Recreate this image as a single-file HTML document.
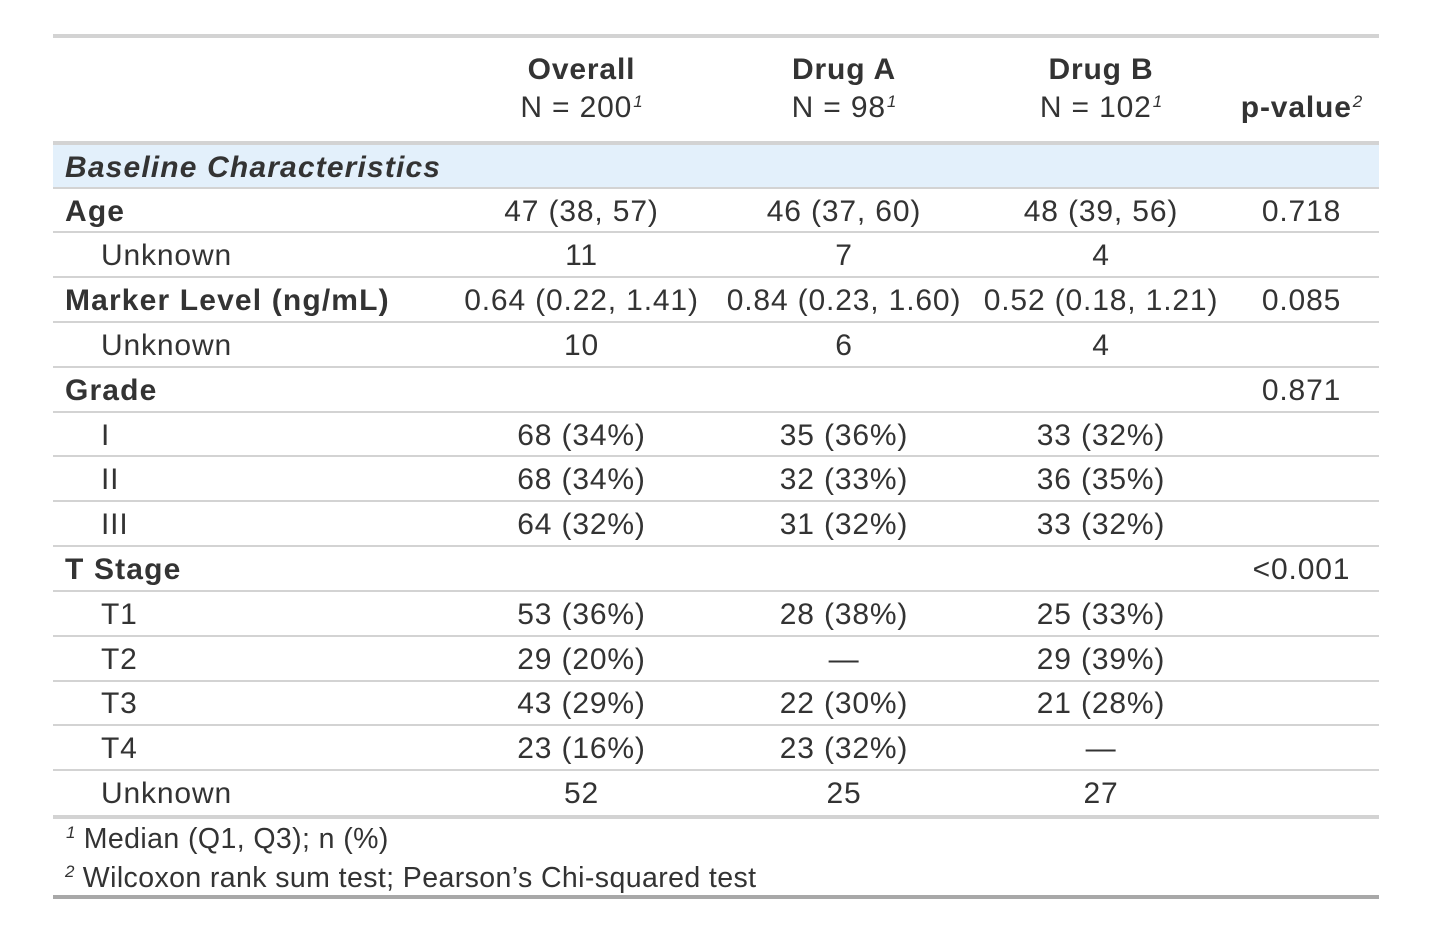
<!DOCTYPE html>
<html>
<head>
<meta charset="utf-8">
<style>
  html, body { margin:0; padding:0; background:#ffffff; }
  body { width:1454px; height:936px; position:relative; overflow:hidden;
         font-family:"Liberation Sans", Arial, sans-serif; color:#333333; }
  .hl { position:absolute; left:53px; width:1326px; background:#d3d3d3; }
  .row { position:absolute; left:0; width:1454px; height:44.8px; }
  .c { position:absolute; top:1.5px; height:44.8px; line-height:44.8px; font-size:30px;
       letter-spacing:0.85px; white-space:nowrap; }
  .lab { left:65px; }
  .ind { left:101px; }
  .b { font-weight:bold; letter-spacing:1.15px; }
  .c1 { left:453px; width:257px; text-align:center; }
  .c2 { left:710px; width:268px; text-align:center; }
  .c3 { left:978px; width:246px; text-align:center; }
  .c4 { left:1224px; width:155px; text-align:center; }
  .h { position:absolute; height:38px; line-height:38px; font-size:30px; white-space:nowrap;
       text-align:center; letter-spacing:0.85px; }
  .sup { font-size:17px; font-style:italic; position:relative; top:-10px; letter-spacing:0; margin-left:1px; }
  .fn { position:absolute; font-size:28.5px; letter-spacing:0.4px; white-space:nowrap; height:40px; line-height:40px; }
</style>
</head>
<body>

<!-- top border -->
<div class="hl" style="top:34px;height:4px;"></div>

<!-- header -->
<div class="h b" style="left:453px;width:257px;top:51.2px;">Overall</div>
<div class="h" style="left:453px;width:257px;top:89px;">N = 200<span class="sup">1</span></div>
<div class="h b" style="left:710px;width:268px;top:51.2px;">Drug A</div>
<div class="h" style="left:710px;width:268px;top:89px;">N = 98<span class="sup">1</span></div>
<div class="h b" style="left:978px;width:246px;top:51.2px;">Drug B</div>
<div class="h" style="left:978px;width:246px;top:89px;">N = 102<span class="sup">1</span></div>
<div class="h b" style="left:1224px;width:155px;top:89px;">p-value<span class="sup" style="font-weight:normal;">2</span></div>

<!-- header bottom border -->
<div class="hl" style="top:141px;height:4px;"></div>

<!-- group row -->
<div style="position:absolute;left:53px;top:145px;width:1326px;height:42px;background:#e3f0fb;"></div>
<div class="c b lab" style="top:146.5px;height:42px;line-height:42px;font-style:italic;">Baseline Characteristics</div>

<!-- row separators -->
<div class="hl" style="top:187px;height:2px;"></div>
<div class="hl" style="top:231px;height:2px;"></div>
<div class="hl" style="top:276px;height:2px;"></div>
<div class="hl" style="top:321px;height:2px;"></div>
<div class="hl" style="top:366px;height:2px;"></div>
<div class="hl" style="top:411px;height:2px;"></div>
<div class="hl" style="top:455px;height:2px;"></div>
<div class="hl" style="top:500px;height:2px;"></div>
<div class="hl" style="top:545px;height:2px;"></div>
<div class="hl" style="top:590px;height:2px;"></div>
<div class="hl" style="top:635px;height:2px;"></div>
<div class="hl" style="top:680px;height:2px;"></div>
<div class="hl" style="top:724px;height:2px;"></div>
<div class="hl" style="top:769px;height:2px;"></div>
<div class="hl" style="top:815px;height:4px;"></div>

<!-- rows -->
<div class="row" style="top:188px;">
  <div class="c b lab">Age</div>
  <div class="c c1">47 (38, 57)</div><div class="c c2">46 (37, 60)</div><div class="c c3">48 (39, 56)</div><div class="c c4">0.718</div>
</div>
<div class="row" style="top:232.8px;">
  <div class="c ind">Unknown</div>
  <div class="c c1">11</div><div class="c c2">7</div><div class="c c3">4</div>
</div>
<div class="row" style="top:277.6px;">
  <div class="c b lab">Marker Level (ng/mL)</div>
  <div class="c c1">0.64 (0.22, 1.41)</div><div class="c c2">0.84 (0.23, 1.60)</div><div class="c c3">0.52 (0.18, 1.21)</div><div class="c c4">0.085</div>
</div>
<div class="row" style="top:322.4px;">
  <div class="c ind">Unknown</div>
  <div class="c c1">10</div><div class="c c2">6</div><div class="c c3">4</div>
</div>
<div class="row" style="top:367.2px;">
  <div class="c b lab">Grade</div>
  <div class="c c4">0.871</div>
</div>
<div class="row" style="top:412px;">
  <div class="c ind">I</div>
  <div class="c c1">68 (34%)</div><div class="c c2">35 (36%)</div><div class="c c3">33 (32%)</div>
</div>
<div class="row" style="top:456.8px;">
  <div class="c ind">II</div>
  <div class="c c1">68 (34%)</div><div class="c c2">32 (33%)</div><div class="c c3">36 (35%)</div>
</div>
<div class="row" style="top:501.6px;">
  <div class="c ind">III</div>
  <div class="c c1">64 (32%)</div><div class="c c2">31 (32%)</div><div class="c c3">33 (32%)</div>
</div>
<div class="row" style="top:546.4px;">
  <div class="c b lab">T Stage</div>
  <div class="c c4">&lt;0.001</div>
</div>
<div class="row" style="top:591.2px;">
  <div class="c ind">T1</div>
  <div class="c c1">53 (36%)</div><div class="c c2">28 (38%)</div><div class="c c3">25 (33%)</div>
</div>
<div class="row" style="top:636px;">
  <div class="c ind">T2</div>
  <div class="c c1">29 (20%)</div><div class="c c2">—</div><div class="c c3">29 (39%)</div>
</div>
<div class="row" style="top:680.8px;">
  <div class="c ind">T3</div>
  <div class="c c1">43 (29%)</div><div class="c c2">22 (30%)</div><div class="c c3">21 (28%)</div>
</div>
<div class="row" style="top:725.6px;">
  <div class="c ind">T4</div>
  <div class="c c1">23 (16%)</div><div class="c c2">23 (32%)</div><div class="c c3">—</div>
</div>
<div class="row" style="top:770.4px;">
  <div class="c ind">Unknown</div>
  <div class="c c1">52</div><div class="c c2">25</div><div class="c c3">27</div>
</div>

<!-- footnotes -->
<div class="fn" style="left:66px;top:819px;"><span class="sup" style="margin-left:0;">1</span> Median (Q1, Q3); n (%)</div>
<div class="fn" style="left:65px;top:858px;"><span class="sup" style="margin-left:0;">2</span> Wilcoxon rank sum test; Pearson’s Chi-squared test</div>

<!-- bottom border -->
<div class="hl" style="top:895px;height:4px;background:#a8a8a8;"></div>

</body>
</html>
